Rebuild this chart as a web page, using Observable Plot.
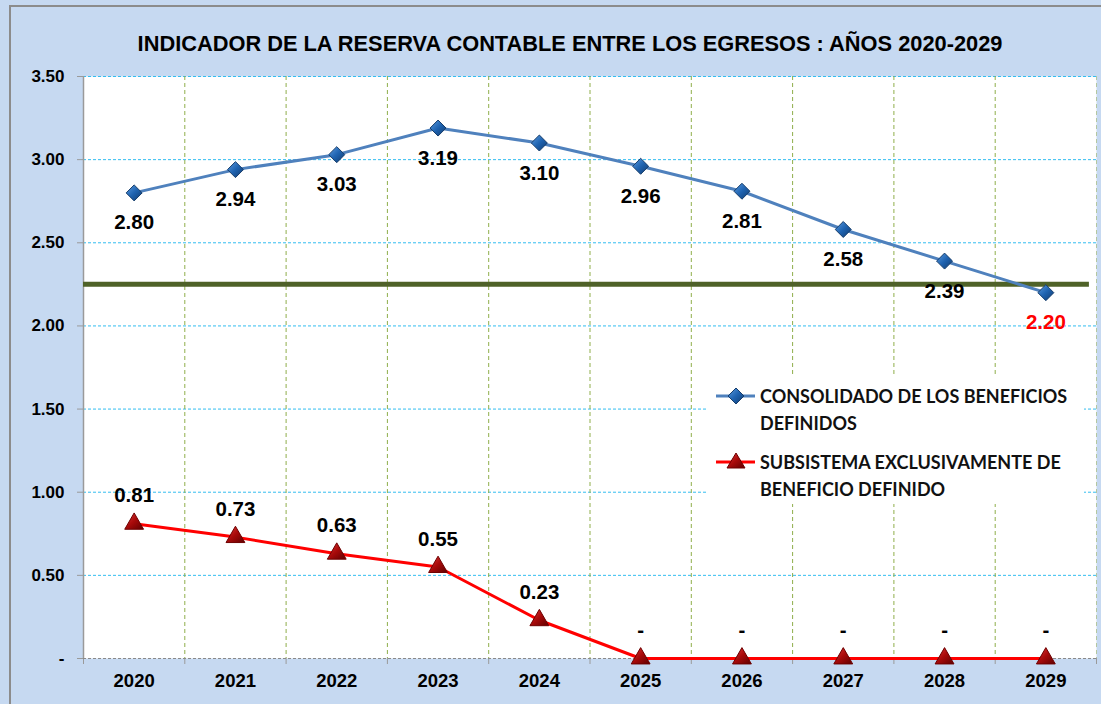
<!DOCTYPE html>
<html>
<head>
<meta charset="utf-8">
<script src="https://cdn.jsdelivr.net/npm/d3@7"></script>
<script src="https://cdn.jsdelivr.net/npm/@observablehq/plot@0.6"></script>
<style>
  html, body { margin: 0; padding: 0; }
  body { width: 1101px; height: 704px; overflow: hidden; background: #c6d9f1; font-family: "Liberation Sans", Arial, sans-serif; }
  #wrap { position: relative; width: 1101px; height: 704px; }
  #frame { position: absolute; left: 9px; top: 5px; width: 1100px; height: 710px; border-top: 2px solid #8c8c8c; border-left: 2px solid #8c8c8c; box-sizing: border-box; pointer-events: none; z-index: 3; }
  #title { position: absolute; top: 0; left: 0; width: 1101px; height: 60px; }
  #title div { position: absolute; left: 570px; top: 33px; transform: translateX(-50%); white-space: nowrap; font: bold 21.8px "Liberation Sans", Arial, sans-serif; line-height: 22px; color: #000; }
  #chart { position: absolute; top: 60px; left: 0; }
  #legend { position: absolute; left: 706px; top: 376px; width: 378px; height: 128px; background: #fff; z-index: 2; }
  #legend svg { position: absolute; left: 0; }
  #legend .txt { position: absolute; left: 54px; font: bold 18px Lato, "Open Sans", sans-serif; line-height: 27px; color: #111; white-space: nowrap; }
</style>
</head>
<body>
<div id="wrap">
  <div id="frame"></div>
  <div id="title"><div>INDICADOR DE LA RESERVA CONTABLE ENTRE LOS EGRESOS : AÑOS 2020-2029</div></div>
  <div id="chart"></div>
  <div id="legend"></div>
</div>
<script>
// ---- data ----
const years = [2020, 2021, 2022, 2023, 2024, 2025, 2026, 2027, 2028, 2029];
const consolidado = [2.80, 2.94, 3.03, 3.19, 3.10, 2.96, 2.81, 2.58, 2.39, 2.20];
const subsistema = [0.81, 0.73, 0.63, 0.55, 0.23, 0, 0, 0, 0, 0];
const threshold = 2.25;
const yTicks = [0, 0.5, 1.0, 1.5, 2.0, 2.5, 3.0, 3.5];
const seriesLines = [["CONSOLIDADO DE LOS BENEFICIOS", "DEFINIDOS"], ["SUBSISTEMA EXCLUSIVAMENTE DE", "BENEFICIO DEFINIDO"]];

const blue = years.map((y, i) => ({year: y, value: consolidado[i]}));
const red = years.map((y, i) => ({year: y, value: subsistema[i]}));
const boundaries = [years[0] - 0.5, ...years.map(y => y + 0.5)];
const innerBounds = boundaries.slice(1, -1);
const fmt = v => v === 0 ? "-" : v.toFixed(2);

const chart = Plot.plot({
  width: 1101,
  height: 644,
  marginTop: 16,
  marginLeft: 83,
  marginRight: 5,
  marginBottom: 46,
  style: {background: "transparent", fontFamily: "'Liberation Sans', Arial, sans-serif", overflow: "visible"},
  x: {domain: [boundaries[0], boundaries[boundaries.length - 1]], axis: null},
  y: {domain: [0, 3.5], axis: null},
  marks: [
    Plot.frame({fill: "#ffffff", stroke: null}),
    Plot.ruleY(yTicks.filter(d => d > 0), {stroke: "#33bdf0", strokeWidth: 1, strokeDasharray: "3,2"}),
    Plot.ruleX(innerBounds, {stroke: "#8fae4a", strokeWidth: 1, strokeDasharray: "4,3"}),
    Plot.ruleX([boundaries[boundaries.length - 1]], {stroke: "#b4c7a0", strokeWidth: 1, strokeDasharray: "4,3"}),
    Plot.axisY({ticks: yTicks, tickFormat: fmt, tickSize: 6, tickPadding: 13, label: null, stroke: "#9a9a9a", fontSize: 17, fontWeight: "bold", fill: "#000"}),
    Plot.axisX({ticks: boundaries, tickFormat: () => "", tickSize: 6, label: null, stroke: "#9a9a9a"}),
    Plot.axisX({ticks: years, tickFormat: d => String(d), tickSize: 0, tickPadding: 15, label: null, fontSize: 18.5, fontWeight: "bold", fill: "#000"}),
    Plot.ruleX([boundaries[0]], {stroke: "#9a9a9a", strokeWidth: 1.5}),
    Plot.ruleY([0], {stroke: "#8a8a8a", strokeWidth: 1, strokeDasharray: "3,2"}),
    Plot.ruleY([threshold], {x1: boundaries[0], x2: boundaries[boundaries.length - 1] - 0.07, stroke: "#4f6228", strokeWidth: 5}),
    Plot.line(red, {x: "year", y: "value", stroke: "#ff0000", strokeWidth: 3}),
    Plot.dot(red, {x: "year", y: "value", symbol: "triangle", r: 7, fill: "url(#gradRed)", stroke: "#6e0000", strokeWidth: 1, className: "redDots"}),
    Plot.text(red, {x: "year", y: "value", text: d => fmt(d.value), dy: -28, fontSize: 20.5, fontWeight: "bold", fill: "#000"}),
    Plot.line(blue, {x: "year", y: "value", stroke: "#4f81bd", strokeWidth: 3}),
    Plot.dot(blue, {x: "year", y: "value", symbol: "diamond2", r: 7.2, fill: "url(#gradBlue)", stroke: "#163d6b", strokeWidth: 1}),
    Plot.text(blue, {x: "year", y: "value", text: d => fmt(d.value), dy: 30, fontSize: 20.5, fontWeight: "bold", fill: d => d.value < threshold ? "#ff0000" : "#000"})
  ]
});
// gradient definitions for 3D-looking markers
const ns = "http://www.w3.org/2000/svg";
const defs = document.createElementNS(ns, "defs");
defs.innerHTML = `
  <linearGradient id="gradBlue" x1="0" y1="0" x2="1" y2="1">
    <stop offset="0" stop-color="#5b9be0"/><stop offset="0.5" stop-color="#1f63b0"/><stop offset="1" stop-color="#103a6e"/>
  </linearGradient>
  <linearGradient id="gradRed" x1="0" y1="0" x2="1" y2="1">
    <stop offset="0" stop-color="#e03a3a"/><stop offset="0.5" stop-color="#a80a0a"/><stop offset="1" stop-color="#5e0000"/>
  </linearGradient>`;
chart.insertBefore(defs, chart.firstChild);
document.getElementById("chart").appendChild(chart);

// legend
const leg = document.getElementById("legend");
const sw = `<svg width="54" height="128" style="top:0">
  <defs>
    <linearGradient id="lgB" x1="0" y1="0" x2="1" y2="1"><stop offset="0" stop-color="#5b9be0"/><stop offset="0.5" stop-color="#1f63b0"/><stop offset="1" stop-color="#103a6e"/></linearGradient>
    <linearGradient id="lgR" x1="0" y1="0" x2="1" y2="1"><stop offset="0" stop-color="#e03a3a"/><stop offset="0.5" stop-color="#a80a0a"/><stop offset="1" stop-color="#5e0000"/></linearGradient>
  </defs>
  <line x1="10" x2="49" y1="20" y2="20" stroke="#4f81bd" stroke-width="3"/>
  <path d="M30,12 L38,20 L30,28 L22,20 Z" fill="url(#lgB)" stroke="#163d6b"/>
  <line x1="10" x2="49" y1="86" y2="86" stroke="#ff0000" stroke-width="3"/>
  <path d="M30,77 L39,92 L21,92 Z" fill="url(#lgR)" stroke="#6e0000"/>
</svg>`;
leg.innerHTML = sw +
  `<div class="txt" style="top:7px">${seriesLines[0].join("<br>")}</div>` +
  `<div class="txt" style="top:73px">${seriesLines[1].join("<br>")}</div>`;
</script>
</body>
</html>
